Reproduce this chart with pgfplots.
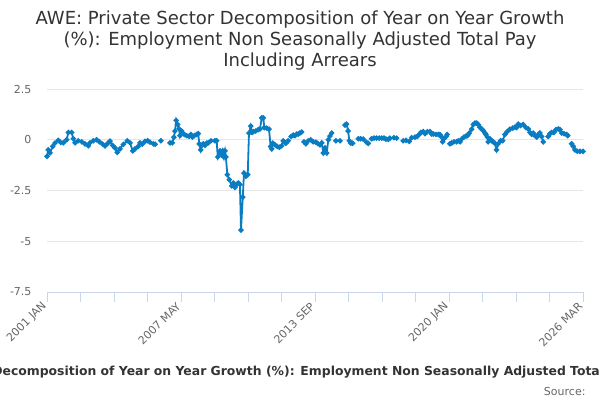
\documentclass[border=0pt]{standalone}
\usepackage{pgfplots}
\pgfplotsset{compat=1.18}
\usepackage{fontspec}
\setmainfont{DejaVu Sans}
\definecolor{series}{HTML}{0A7CC1}
\definecolor{titlec}{HTML}{333333}
\definecolor{labelc}{HTML}{666666}
\definecolor{axisc}{HTML}{CCD6EB}
\definecolor{gridc}{HTML}{E6E6E6}
\begin{document}
\begin{tikzpicture}
\begin{axis}[scale only axis, width=536pt, height=203pt,
  xmin=0, xmax=302, ymin=-7.5, ymax=2.5,
  clip=false,
  axis x line*=bottom, axis y line*=left,
  y axis line style={draw=none},
  x axis line style={draw=axisc, line width=1pt},
  xtick={0,75.5,151,226.5,302},
  xticklabels={2001 JAN,2007 MAY,2013 SEP,2020 JAN,2026 MAR},
  minor xtick={18.875,37.75,56.625,94.375,113.25,132.125,169.875,188.75,207.625,245.375,264.25,283.125},
  tick align=outside,
  major tick length=10pt, minor tick length=10pt,
  xtick style={draw=axisc, line width=0.8pt},
  minor x tick style={draw=axisc, line width=0.8pt},
  ytick={-7.5,-5,-2.5,0,2.5}, yticklabels={-7.5,-5,-2.5,0,2.5},
  ytick style={draw=none},
  ymajorgrids, grid style={draw=gridc, line width=0.8pt},
  tick label style={font=\fontsize{11}{13}\selectfont, text=labelc},
  xticklabel style={rotate=45, anchor=east},
  yticklabel style={xshift=-2pt},
  unbounded coords=jump,
]
\addplot[color=series, line width=1.8pt, mark=*, mark size=1.7pt, mark options={solid, fill=series, draw=series}] table {
x y
0 -0.82
0.7 -0.5
1.7 -0.65
3.2 -0.33
4.5 -0.16
6.4 -0.03
7.7 -0.13
9.2 -0.15
11.1 0
12.0 0.36
13.9 0.36
14.8 0.05
15.8 -0.15
17.6 -0.05
19.6 -0.1
21.4 -0.2
23.3 -0.3
24.2 -0.15
26.1 -0.05
28.0 0
29.5 -0.1
31.4 -0.22
32.7 -0.3
34.2 -0.18
35.5 -0.07
37.0 -0.28
38.3 -0.4
39.6 -0.62
41.1 -0.45
43.0 -0.23
45.2 -0.05
46.8 -0.15
48.3 -0.55
49.6 -0.45
51.4 -0.33
52.4 -0.15
53.7 -0.22
55.2 -0.08
56.7 -0.05
58.0 -0.12
59.9 -0.2
60.9 -0.22
62.5 nan
64.2 -0.05
66 nan
69.3 -0.15
70.6 -0.15
71.5 0.12
72.1 0.43
72.8 0.95
73.6 0.75
74.4 0.54
74.9 0.2
75.9 0.43
77.4 0.26
78.7 0.2
80.0 0.16
81.1 0.26
81.9 0.13
83.0 0.2
84.3 0.26
85.2 0.3
85.8 -0.2
86.6 -0.5
87.2 -0.28
88.1 -0.2
89.0 -0.28
90.0 -0.17
90.9 -0.15
92.4 -0.05
94.6 -0.05
95.6 -0.05
96.2 -0.85
97.5 -0.55
98.4 -0.75
99.0 -0.55
99.7 -0.85
100.3 -0.55
100.8 -0.85
101.6 -1.72
102.7 -1.97
104.1 -2.27
105.0 -2.13
105.9 -2.35
106.9 -2.2
107.8 -2.13
108.7 -2.2
109.3 -4.45
110.3 -2.83
111.0 -1.64
112.1 -1.8
113.1 -1.72
113.8 0.33
114.8 0.67
115.5 0.36
116.2 0.4
117.6 0.43
119.0 0.5
120.0 0.53
121.0 1.08
121.9 1.08
122.4 0.6
123.8 0.57
125.1 0.52
126.0 -0.33
126.6 -0.45
127.2 -0.17
128.5 -0.25
129.7 -0.33
130.9 -0.37
132.2 -0.3
133.1 -0.05
133.8 nan
134.6 -0.17
135.9 -0.05
136.7 nan
137.5 0.16
138.8 0.23
139.7 0.2
140.7 0.28
141.6 0.28
142.5 0.33
143.5 0.38
144.1 nan
144.8 -0.1
145.9 -0.2
146.5 nan
147.2 -0.05
148.6 0
150.0 -0.1
151.5 -0.12
152.5 -0.18
153.8 -0.25
154.8 -0.15
155.7 -0.65
156.6 -0.4
157.6 -0.65
158.5 0
159.4 0.18
160.4 0.33
161.5 nan
162.8 -0.05
164 nan
165.1 -0.05
166.5 nan
167.9 0.72
168.8 0.77
169.7 0.43
170.3 -0.05
171.1 -0.17
172.2 -0.17
173.8 nan
175.4 0.05
176.7 0.05
178.2 0.03
180.1 -0.13
181.0 -0.18
182.0 nan
182.9 0.05
184.2 0.08
185.7 0.08
187.2 0.08
188.6 0.08
189.9 0.08
191.0 0.03
192.3 0.02
193.2 0.08
194.3 nan
195.5 0.1
197.0 0.08
199 nan
200.7 -0.05
202.3 -0.03
203.2 nan
204.1 -0.08
205.5 0.1
207.3 0.13
208.6 0.16
209.7 0.26
210.7 0.36
212.0 0.4
213.0 0.3
214.3 0.4
215.8 0.4
216.7 0.28
217.7 0.28
219.2 0.26
220.5 0.26
221.4 0.26
222.4 0.13
222.9 -0.1
223.7 0.05
224.8 0.15
225.5 0.26
226.3 nan
227.0 -0.2
228.0 -0.16
229.3 -0.1
230.8 -0.1
231.7 -0.05
232.7 -0.1
233.6 0.03
234.9 0.13
236.1 0.18
237.0 0.21
237.9 0.33
239.3 0.52
240.2 0.75
241.1 0.82
242.1 0.82
243.0 0.75
243.9 0.62
244.9 0.53
245.8 0.45
246.8 0.33
247.3 0.26
248.1 0.13
248.6 -0.1
249.6 0.05
250.5 -0.05
251.4 -0.1
252.4 -0.18
253.3 -0.5
254.2 -0.2
255.6 -0.05
256.7 -0.05
258.0 0.26
259.3 0.4
260.8 0.52
262.4 0.57
263.7 0.62
264.6 0.6
265.5 0.77
266.9 0.7
268.3 0.75
269.9 0.6
271.2 0.53
272.1 0.36
273.1 0.26
274.0 0.33
274.9 0.21
275.9 0.13
276.8 0.26
277.7 0.33
278.7 0.16
279.6 -0.1
281.0 nan
282.4 0.16
283.4 0.3
284.3 0.36
285.6 0.36
286.8 0.5
288.1 0.53
289.0 0.5
290.0 0.33
291.3 0.3
292.8 0.26
293.4 0.2
294.5 nan
295.6 -0.2
296.5 -0.33
297.5 -0.5
298.8 -0.57
300.3 -0.57
302.0 -0.57
};
\coordinate (BL) at (axis description cs:-0.087687,-0.532020);
\coordinate (TR) at (axis description cs:1.031716,1.438424);
\node[font=\fontsize{18}{21}\selectfont, text=titlec, align=center] at (axis description cs:0.472015,1.238916) {AWE: Private Sector Decomposition of Year on Year Growth\\(\%): Employment Non Seasonally Adjusted Total Pay\\Including Arrears};
\node[font=\bfseries\fontsize{12.4}{14}\selectfont, text=titlec] at (axis description cs:0.478, -0.394089) {AWE: Private Sector Decomposition of Year on Year Growth (\%): Employment Non Seasonally Adjusted Total Pay Including Arrears};
\node[anchor=east, font=\fontsize{11}{13}\selectfont, text=labelc] at (axis description cs:1.011194,-0.487685) {Source:};
\end{axis}
\pgfresetboundingbox
\path[use as bounding box] (BL) rectangle (TR);
\end{tikzpicture}
\end{document}
